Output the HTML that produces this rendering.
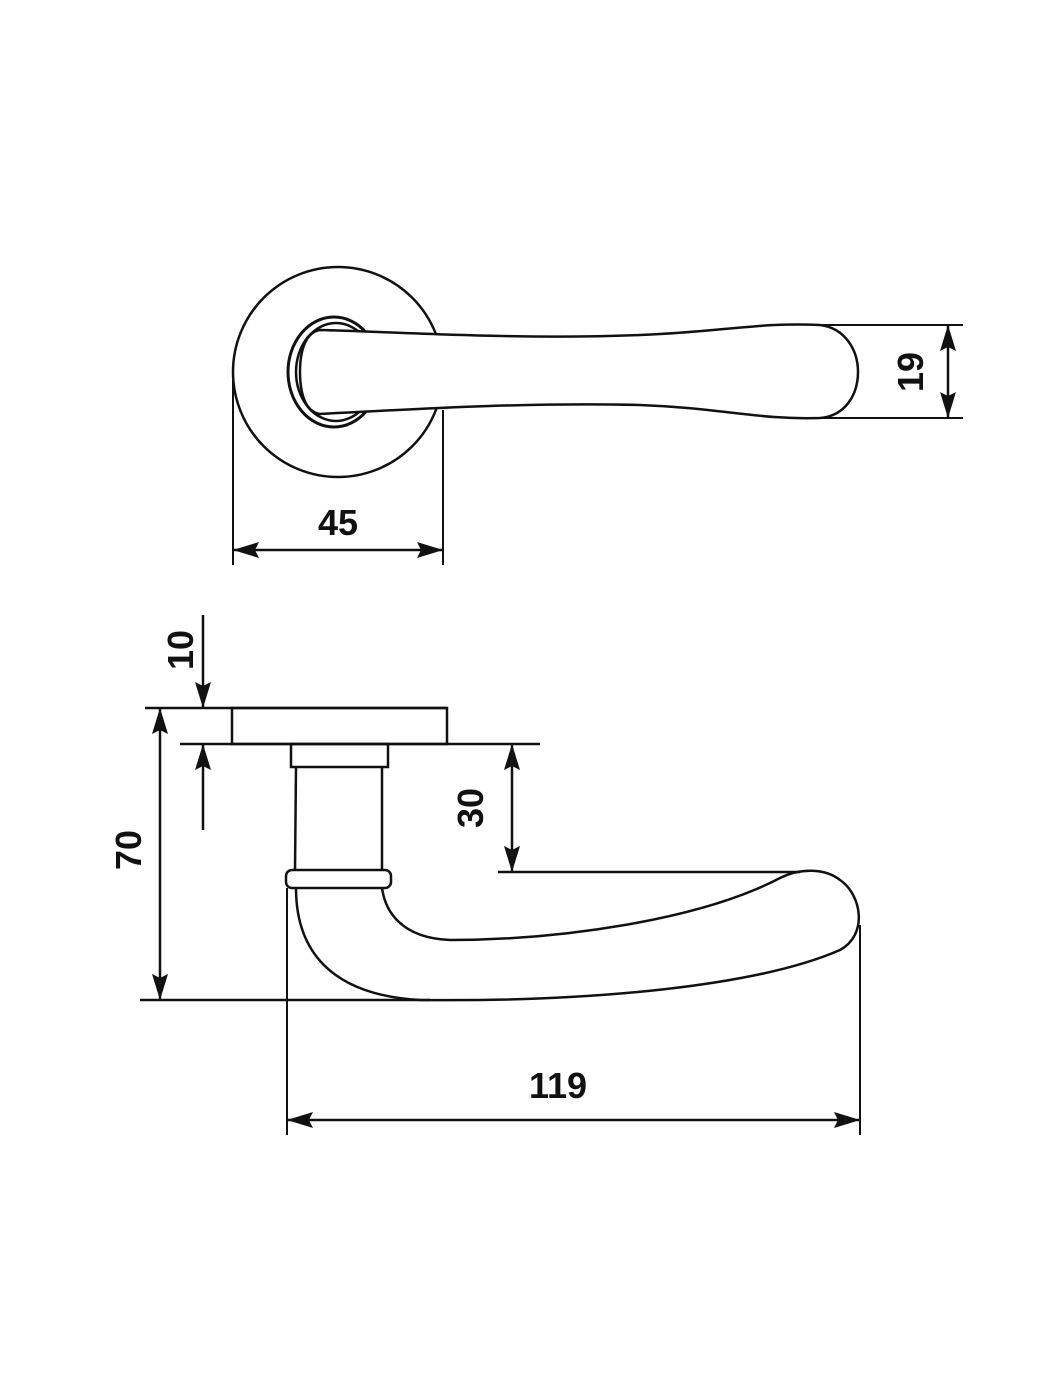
<!DOCTYPE html>
<html><head><style>
html,body{margin:0;padding:0;background:#fff;}
svg{display:block;}
text{font-family:"Liberation Sans",sans-serif;font-weight:bold;font-size:36px;fill:#111;}
</style></head><body>
<svg width="1050" height="1400" viewBox="0 0 1050 1400" xmlns="http://www.w3.org/2000/svg">
<defs>
<marker id="a" viewBox="0 0 26 16" refX="26" refY="8" markerWidth="26" markerHeight="16" markerUnits="userSpaceOnUse" orient="auto-start-reverse">
<path d="M0,0 L26,8 L0,16 L4,8 Z" fill="#111"/>
</marker>
</defs>
<g fill="none" stroke="#111" stroke-width="2.5">
<!-- top view -->
<ellipse cx="338" cy="372" rx="105" ry="105"/>
<ellipse cx="334" cy="372" rx="46" ry="55" stroke-width="3"/>
<ellipse cx="336" cy="372" rx="40" ry="49"/>
<path d="M320,330 C400,332 520,340 640,335 C720,332 760,322 820,325 C845,328 858,350 858,372 C858,395 845,416 820,418 C760,420 720,408 640,405 C520,402 400,410 320,414 C306,412 300,395 300,372 C300,350 306,332 320,330 Z" fill="#fff"/>
<line x1="233" y1="380" x2="233" y2="565" stroke-width="2"/>
<line x1="443" y1="410" x2="443" y2="565" stroke-width="2"/>
<line x1="233" y1="550" x2="443" y2="550" marker-start="url(#a)" marker-end="url(#a)"/>
<line x1="820" y1="325" x2="963" y2="325" stroke-width="2"/>
<line x1="820" y1="418" x2="963" y2="418" stroke-width="2"/>
<line x1="948" y1="325" x2="948" y2="418" marker-start="url(#a)" marker-end="url(#a)"/>
<!-- side view -->
<rect x="232" y="708" width="215" height="36"/>
<line x1="145" y1="708" x2="447" y2="708"/>
<line x1="180" y1="744" x2="540" y2="744"/>
<line x1="203" y1="615" x2="203" y2="708" marker-end="url(#a)"/>
<line x1="203" y1="830" x2="203" y2="744" marker-end="url(#a)"/>
<line x1="160" y1="708" x2="160" y2="1000" marker-start="url(#a)" marker-end="url(#a)"/>
<line x1="140" y1="1000" x2="430" y2="1000"/>
<rect x="291" y="744" width="97" height="23"/>
<line x1="296" y1="767" x2="295" y2="870"/>
<line x1="382" y1="767" x2="382" y2="870"/>
<rect x="286" y="870" width="105" height="18" rx="6"/>
<path d="M296,888 C296,950 330,995 420,1000 C600,1002 760,985 840,950 C868,935 862,895 840,880 C825,868 800,868 780,878 C700,920 560,940 450,940 C400,938 385,910 382,888"/>
<line x1="498" y1="872" x2="800" y2="872"/>
<line x1="512" y1="744" x2="512" y2="872" marker-start="url(#a)" marker-end="url(#a)"/>
<line x1="287" y1="888" x2="287" y2="1135" stroke-width="2"/>
<line x1="860" y1="925" x2="860" y2="1135" stroke-width="2"/>
<line x1="287" y1="1120" x2="860" y2="1120" marker-start="url(#a)" marker-end="url(#a)"/>
</g>
<text x="338" y="535" text-anchor="middle">45</text>
<text transform="translate(923,372) rotate(-90)" text-anchor="middle">19</text>
<text transform="translate(193,650) rotate(-90)" text-anchor="middle">10</text>
<text transform="translate(141,850) rotate(-90)" text-anchor="middle">70</text>
<text transform="translate(483,808) rotate(-90)" text-anchor="middle">30</text>
<text x="558" y="1098" text-anchor="middle">119</text>
</svg>
</body></html>
